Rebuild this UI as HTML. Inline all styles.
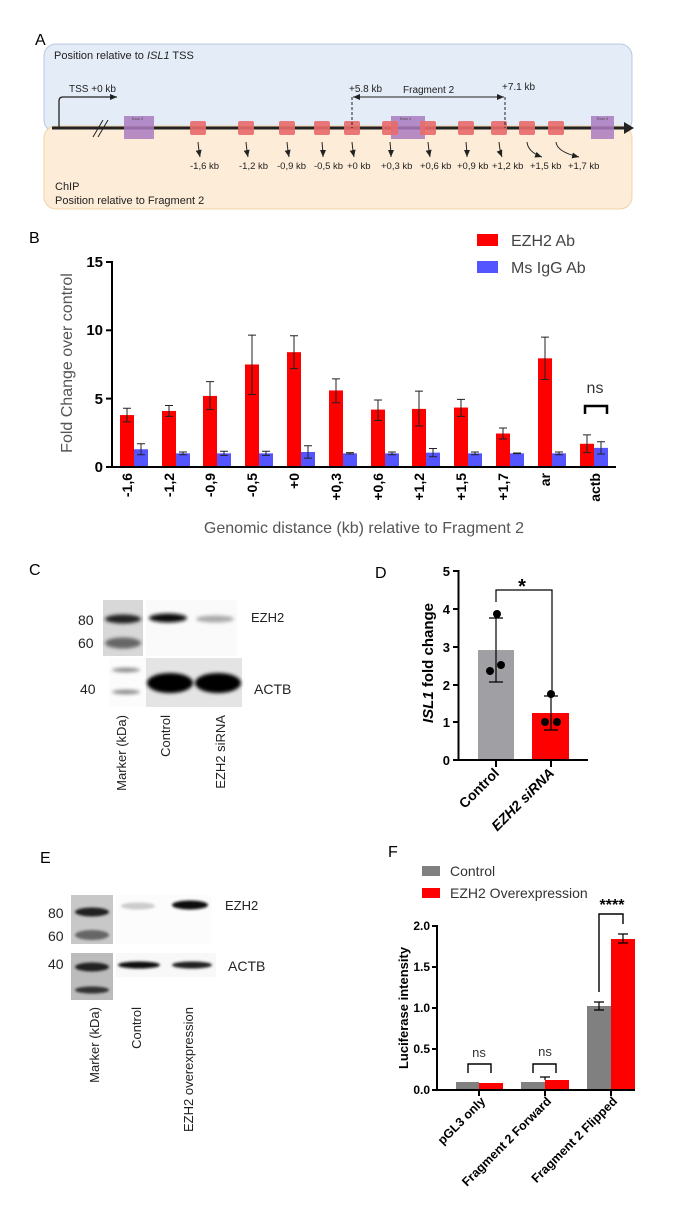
<!DOCTYPE html>
<html><head><meta charset="utf-8"><style>
html,body{margin:0;padding:0;background:#fff;overflow:hidden}
svg{display:block}
text{font-family:"Liberation Sans",sans-serif}
</style></head><body>
<svg id="s" width="685" height="1219" viewBox="0 0 685 1219" xmlns="http://www.w3.org/2000/svg">
<defs>
<filter id="bl" x="-30%" y="-80%" width="160%" height="260%"><feGaussianBlur stdDeviation="1.8"/></filter>
<filter id="bl1" x="-30%" y="-80%" width="160%" height="260%"><feGaussianBlur stdDeviation="1.2"/></filter>
<marker id="ah" markerWidth="8" markerHeight="8" refX="7" refY="4" orient="auto" markerUnits="userSpaceOnUse"><path d="M0,1 L7,4 L0,7z" fill="#222"/></marker>
<marker id="ah2" markerWidth="8" markerHeight="8" refX="7" refY="4" orient="auto-start-reverse" markerUnits="userSpaceOnUse"><path d="M0,1 L7,4 L0,7z" fill="#222"/></marker>
</defs>
<!-- Panel A -->
<text x="35" y="45" font-size="16">A</text>
<rect x="44" y="44" width="588" height="88" rx="12" fill="#e4ecf7" stroke="#b8c8e0"/>
<rect x="44" y="126" width="588" height="83" rx="12" fill="#fcecd8" stroke="#f0d4a8"/>
<text x="54" y="59" font-size="11" fill="#222">Position relative to <tspan font-style="italic">ISL1</tspan> TSS</text>
<text x="55" y="190" font-size="11" fill="#222">ChIP</text>
<text x="55" y="204" font-size="11" fill="#222">Position relative to Fragment 2</text>
<line x1="52" y1="128" x2="625" y2="128" stroke="#222" stroke-width="3"/>
<path d="M624,122 L634,128 L624,134z" fill="#222"/>
<path d="M59,128 V101 q0,-4 4,-4 H117" fill="none" stroke="#222" stroke-width="1.3" marker-end="url(#ah)"/>
<text x="69" y="92" font-size="10" fill="#222">TSS +0 kb</text>
<path d="M93,137 L103,120 M98,137 L108,120" stroke="#222" stroke-width="1"/>
<rect x="124" y="116" width="30" height="23" fill="#a97bc0" opacity="0.85"/>
<text x="132" y="120" font-size="3.5" fill="#444">Exon 3</text>
<rect x="391" y="116" width="34" height="23" fill="#a97bc0" opacity="0.85"/>
<text x="400" y="120" font-size="3.5" fill="#444">Exon 4</text>
<rect x="591" y="116" width="23" height="23" fill="#a97bc0" opacity="0.85"/>
<text x="597" y="120" font-size="3.5" fill="#444">Exon 5</text>
<g id="redboxes" fill="#e86a6a"></g>
<line x1="352" y1="97" x2="352" y2="128" stroke="#222" stroke-dasharray="3,2"/>
<line x1="505" y1="97" x2="505" y2="128" stroke="#222" stroke-dasharray="3,2"/>
<line x1="353" y1="97" x2="504" y2="97" stroke="#222" stroke-width="1" marker-end="url(#ah)" marker-start="url(#ah2)"/>
<text x="349" y="92" font-size="10" fill="#222">+5.8 kb</text>
<text x="403" y="93" font-size="10" fill="#222">Fragment 2</text>
<text x="502" y="90" font-size="10" fill="#222">+7.1 kb</text>
<g id="arrowsA"></g>
<g font-size="9.5" fill="#222">
<text x="190" y="169">-1,6 kb</text><text x="239" y="169">-1,2 kb</text><text x="277" y="169">-0,9 kb</text>
<text x="314" y="169">-0,5 kb</text><text x="347" y="169">+0 kb</text><text x="381" y="169">+0,3 kb</text>
<text x="420" y="169">+0,6 kb</text><text x="457" y="169">+0,9 kb</text><text x="492" y="169">+1,2 kb</text>
<text x="530" y="169">+1,5 kb</text><text x="568" y="169">+1,7 kb</text>
</g>
<!-- Panel B -->
<text x="29" y="243" font-size="16">B</text>
<rect x="477" y="234" width="21" height="12" fill="#ff0000"/>
<text x="511" y="246" font-size="16" fill="#444">EZH2 Ab</text>
<rect x="477" y="261" width="21" height="12" fill="#5555ff"/>
<text x="511" y="273" font-size="16" fill="#444">Ms IgG Ab</text>
<g id="barsB"></g>
<line x1="112" y1="261" x2="112" y2="468" stroke="#000" stroke-width="2"/>
<line x1="111" y1="467" x2="616" y2="467" stroke="#000" stroke-width="2"/>
<g stroke="#000" stroke-width="2"><line x1="106" y1="262" x2="112" y2="262"/><line x1="106" y1="330.3" x2="112" y2="330.3"/><line x1="106" y1="398.6" x2="112" y2="398.6"/><line x1="106" y1="467" x2="112" y2="467"/></g>
<g font-size="15" font-weight="bold" text-anchor="end"><text x="103" y="267">15</text><text x="103" y="335">10</text><text x="103" y="404">5</text><text x="103" y="472">0</text></g>
<text transform="translate(72,363) rotate(-90)" font-size="16" fill="#555" text-anchor="middle">Fold Change over control</text>
<text x="595" y="393" font-size="16" fill="#333" text-anchor="middle">ns</text>
<path d="M585,414 V406 H607 V414" fill="none" stroke="#000" stroke-width="2.5"/>
<g font-size="14" font-weight="bold" text-anchor="end">
<text transform="translate(132,473) rotate(-90)">-1,6</text>
<text transform="translate(174,473) rotate(-90)">-1,2</text>
<text transform="translate(215,473) rotate(-90)">-0,9</text>
<text transform="translate(257,473) rotate(-90)">-0,5</text>
<text transform="translate(299,473) rotate(-90)">+0</text>
<text transform="translate(341,473) rotate(-90)">+0,3</text>
<text transform="translate(383,473) rotate(-90)">+0,6</text>
<text transform="translate(424,473) rotate(-90)">+1,2</text>
<text transform="translate(466,473) rotate(-90)">+1,5</text>
<text transform="translate(508,473) rotate(-90)">+1,7</text>
<text transform="translate(550,473) rotate(-90)">ar</text>
<text transform="translate(600,473) rotate(-90)">actb</text>
</g>
<text x="364" y="533" font-size="16" fill="#555" text-anchor="middle">Genomic distance (kb) relative to Fragment 2</text>
<!-- Panel C -->
<text x="29" y="575" font-size="16">C</text>
<rect x="103" y="600" width="40" height="56" fill="#d8d8d8"/>
<rect x="146" y="600" width="91" height="56" fill="#fafafa"/>
<rect x="109" y="658" width="37" height="49" fill="#fcfcfc"/>
<rect x="146" y="658" width="96" height="49" fill="#e4e4e4"/>
<g filter="url(#bl)">
<ellipse cx="123" cy="619" rx="18" ry="4.5" fill="#222"/>
<ellipse cx="123" cy="643" rx="18" ry="5.5" fill="#666"/>
<ellipse cx="168" cy="618" rx="19" ry="4.5" fill="#111"/>
<ellipse cx="215" cy="619" rx="19" ry="3.5" fill="#aaa"/>
<ellipse cx="126" cy="670" rx="14" ry="2.2" fill="#888"/>
<ellipse cx="126" cy="692" rx="14" ry="2.2" fill="#888"/>
<ellipse cx="170" cy="683" rx="23" ry="10" fill="#000"/>
<ellipse cx="218" cy="683" rx="23" ry="10" fill="#000"/>
</g>
<g font-size="14" fill="#222">
<text x="78" y="625">80</text><text x="78" y="648">60</text><text x="80" y="694">40</text>
<text x="251" y="622" font-size="13">EZH2</text><text x="254" y="694" font-size="14">ACTB</text>
</g>
<g font-size="13" fill="#222" text-anchor="end">
<text transform="translate(126,715) rotate(-90)">Marker (kDa)</text>
<text transform="translate(170,715) rotate(-90)">Control</text>
<text transform="translate(225,715) rotate(-90)">EZH2 siRNA</text>
</g>
<!-- Panel D -->
<text x="375" y="578" font-size="16">D</text>
<rect x="478" y="650" width="36" height="110" fill="#a0a0a4"/>
<rect x="532" y="713" width="37" height="47" fill="#ff0000"/>
<line x1="458.5" y1="570" x2="458.5" y2="761" stroke="#000" stroke-width="2"/>
<line x1="457" y1="760" x2="588" y2="760" stroke="#000" stroke-width="2"/>
<g stroke="#000" stroke-width="2">
<line x1="453" y1="571" x2="458" y2="571"/><line x1="453" y1="609" x2="458" y2="609"/><line x1="453" y1="647" x2="458" y2="647"/><line x1="453" y1="685" x2="458" y2="685"/><line x1="453" y1="722" x2="458" y2="722"/><line x1="453" y1="760" x2="458" y2="760"/>
<line x1="496" y1="760" x2="496" y2="767"/><line x1="551" y1="760" x2="551" y2="767"/>
</g>
<g font-size="13" font-weight="bold" text-anchor="end"><text x="450" y="576">5</text><text x="450" y="614">4</text><text x="450" y="652">3</text><text x="450" y="690">2</text><text x="450" y="727">1</text><text x="450" y="765">0</text></g>
<text transform="translate(433,663) rotate(-90)" font-size="15" font-weight="bold" text-anchor="middle"><tspan font-style="italic">ISL1</tspan> fold change</text>
<g stroke="#000" stroke-width="1.2" fill="none">
<path d="M496,682 V618 M489,618 H503 M489,682 H503"/>
<path d="M551,730 V696 M544,696 H558 M544,730 H558"/>
<path d="M496,602 V590 H552 V690"/>
</g>
<g fill="#000"><circle cx="497" cy="614" r="4"/><circle cx="490" cy="671" r="4"/><circle cx="501" cy="665" r="4"/><circle cx="551" cy="694" r="4"/><circle cx="545" cy="722" r="4"/><circle cx="557" cy="722" r="4"/></g>
<text x="522" y="593" font-size="20" font-weight="bold" text-anchor="middle">*</text>
<g font-size="14" font-weight="bold" text-anchor="end">
<text transform="translate(500,774) rotate(-45)">Control</text>
<text transform="translate(555,774) rotate(-45)" font-style="italic">EZH2 siRNA</text>
</g>
<!-- Panel E -->
<text x="40" y="863" font-size="16">E</text>
<rect x="71" y="895" width="42" height="49" fill="#c8c8c8"/>
<rect x="71" y="953" width="42" height="47" fill="#bcbcbc"/>
<rect x="116" y="895" width="96" height="49" fill="#fcfcfc"/>
<rect x="116" y="953" width="100" height="24" fill="#f8f8f8"/>
<g filter="url(#bl1)">
<ellipse cx="92" cy="912" rx="17" ry="4.5" fill="#222"/>
<ellipse cx="92" cy="935" rx="17" ry="5" fill="#666"/>
<ellipse cx="138" cy="906" rx="17" ry="3.5" fill="#ccc"/>
<ellipse cx="190" cy="905" rx="18" ry="4.5" fill="#111"/>
<ellipse cx="92" cy="967" rx="17" ry="4.5" fill="#222"/>
<ellipse cx="92" cy="990" rx="17" ry="3.5" fill="#333"/>
<ellipse cx="139" cy="965" rx="21" ry="3.5" fill="#111"/>
<ellipse cx="192" cy="965" rx="20" ry="3.5" fill="#222"/>
</g>
<g font-size="14" fill="#222">
<text x="48" y="918">80</text><text x="48" y="941">60</text><text x="48" y="969">40</text>
<text x="225" y="910" font-size="13">EZH2</text><text x="228" y="971" font-size="14">ACTB</text>
</g>
<g font-size="13" fill="#222" text-anchor="end">
<text transform="translate(99,1007) rotate(-90)">Marker (kDa)</text>
<text transform="translate(141,1007) rotate(-90)">Control</text>
<text transform="translate(193,1007) rotate(-90)">EZH2 overexpression</text>
</g>
<!-- Panel F -->
<text x="388" y="857" font-size="16">F</text>
<rect x="422" y="866" width="18" height="10" fill="#808080"/>
<text x="450" y="876" font-size="14" fill="#333">Control</text>
<rect x="422" y="888" width="18" height="10" fill="#ff0000"/>
<text x="450" y="898" font-size="14" fill="#333">EZH2 Overexpression</text>
<rect x="456" y="1082" width="23" height="8" fill="#808080"/>
<rect x="479" y="1083" width="24" height="7" fill="#ff0000"/>
<rect x="521" y="1082" width="24" height="8" fill="#808080"/>
<rect x="545" y="1080" width="24" height="10" fill="#ff0000"/>
<rect x="587" y="1006" width="24" height="84" fill="#808080"/>
<rect x="611" y="939" width="24" height="151" fill="#ff0000"/>
<g stroke="#000" stroke-width="1.2" fill="none">
<path d="M599,1010 V1002 M594,1002 H604 M594,1010 H604"/>
<path d="M623,943 V934 M618,934 H628 M618,943 H628"/>
<path d="M545,1080 V1077 M540,1077 H550"/>
<path d="M599,992 V914 H623 V924" stroke-width="1.4"/>
<path d="M468,1073 V1064 H491 V1073" stroke-width="1.4"/>
<path d="M533,1073 V1064 H556 V1073" stroke-width="1.4"/>
</g>
<line x1="437" y1="925" x2="437" y2="1091" stroke="#000" stroke-width="2"/>
<line x1="436" y1="1090" x2="635" y2="1090" stroke="#000" stroke-width="2"/>
<g stroke="#000" stroke-width="2">
<line x1="432" y1="926" x2="437" y2="926"/><line x1="432" y1="967" x2="437" y2="967"/><line x1="432" y1="1008" x2="437" y2="1008"/><line x1="432" y1="1049" x2="437" y2="1049"/><line x1="432" y1="1090" x2="437" y2="1090"/>
<line x1="479" y1="1090" x2="479" y2="1096"/><line x1="545" y1="1090" x2="545" y2="1096"/><line x1="611" y1="1090" x2="611" y2="1096"/>
</g>
<g font-size="12" font-weight="bold" text-anchor="end"><text x="430" y="930">2.0</text><text x="430" y="971">1.5</text><text x="430" y="1012">1.0</text><text x="430" y="1053">0.5</text><text x="430" y="1094">0.0</text></g>
<text transform="translate(408,1008) rotate(-90)" font-size="13" font-weight="bold" text-anchor="middle">Luciferase intensity</text>
<text x="612" y="910" font-size="16" font-weight="bold" text-anchor="middle">****</text>
<text x="479" y="1057" font-size="13" fill="#333" text-anchor="middle">ns</text>
<text x="545" y="1056" font-size="13" fill="#333" text-anchor="middle">ns</text>
<g font-size="12.5" font-weight="bold" text-anchor="end">
<text transform="translate(486,1102) rotate(-45)">pGL3 only</text>
<text transform="translate(552,1102) rotate(-45)">Fragment 2 Forward</text>
<text transform="translate(618,1102) rotate(-45)">Fragment 2 Flipped</text>
</g>
</svg>
<script>
var NS="http://www.w3.org/2000/svg";
function el(p,t,a){var e=document.createElementNS(NS,t);for(var k in a)e.setAttribute(k,a[k]);p.appendChild(e);return e;}
var rb=document.getElementById("redboxes"),ar=document.getElementById("arrowsA");
var cx=[198,246,287,322,352,390,428,466,499,527,556];
var lx=[201,249,290,324,355,392,431,468,503,543,580];
cx.forEach(function(c,i){el(rb,"rect",{x:c-8,y:121,width:16,height:14,rx:2,opacity:0.9});
el(ar,"path",{d:"M"+c+",142 Q"+(c+1)+",152 "+(lx[i]-1)+",157",fill:"none",stroke:"#222","stroke-width":1,"marker-end":"url(#ah)"});});
var g=document.getElementById("barsB");
function Y(v){return 467-13.67*v;}
var rc=[127,169,210,252,294,336,378,419,461,503,545,587];
var rv=[[3.8,3.3,4.3],[4.1,3.7,4.5],[5.2,4.2,6.25],[7.5,5.3,9.65],[8.4,7.2,9.6],[5.6,4.7,6.45],[4.2,3.4,4.9],[4.25,3.0,5.55],[4.35,3.7,4.95],[2.45,2.05,2.85],[7.95,6.4,9.5],[1.7,1.05,2.35]];
var bv=[[1.3,0.9,1.7],[1,0.9,1.1],[1,0.85,1.15],[1,0.85,1.15],[1.1,0.65,1.55],[1,0.95,1.05],[1,0.9,1.1],[1.05,0.75,1.35],[1,0.9,1.1],[1,0.98,1.02],[1,0.9,1.1],[1.4,0.95,1.85]];
function bar(c,d,col){el(g,"rect",{x:c-7,y:Y(d[0]),width:14,height:Y(0)-Y(d[0]),fill:col});
el(g,"path",{d:"M"+c+","+Y(d[1])+"V"+Y(d[2])+"M"+(c-4)+","+Y(d[1])+"h8M"+(c-4)+","+Y(d[2])+"h8",stroke:"#222","stroke-width":1,fill:"none"});}
rc.forEach(function(c,i){bar(c,rv[i],"#ff0000");bar(c+14,bv[i],"#5555ff");});
</script>
</body></html>
